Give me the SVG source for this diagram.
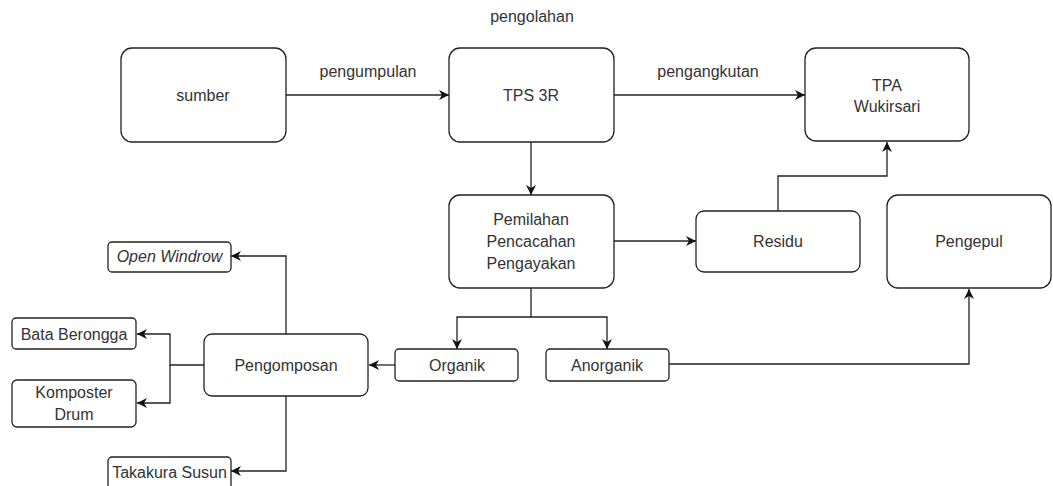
<svg xmlns="http://www.w3.org/2000/svg" width="1053" height="486" viewBox="0 0 1053 486">
<defs>
<marker id="arr" viewBox="0 0 10 10" refX="10" refY="5" markerWidth="10" markerHeight="10" markerUnits="userSpaceOnUse" orient="auto">
<path d="M0,0 L10,5 L0,10 L3,5 Z" fill="#111"/>
</marker>
<style>
rect{fill:#fff;stroke:#222;stroke-width:1.3}
text{font-family:"Liberation Sans",Arial,sans-serif;font-size:16px;fill:#333;text-anchor:middle}
.c path{fill:none;stroke:#222;stroke-width:1.3}
.lbl{fill:#333}
</style>
</defs>
<rect x="0" y="0" width="1053" height="486" style="fill:#fff;stroke:none"/>
<g class="c" id="connectors">
<path d="M286,95 H449" marker-end="url(#arr)"/>
<path d="M614,95 H805" marker-end="url(#arr)"/>
<path d="M531,142 V195" marker-end="url(#arr)"/>
<path d="M614,241 H696" marker-end="url(#arr)"/>
<path d="M778,211 V176 H887 V142" marker-end="url(#arr)"/>
<path d="M531,288 V317 H457 V349" marker-end="url(#arr)"/>
<path d="M531,317 H607 V349" marker-end="url(#arr)"/>
<path d="M669,364 H969 V289" marker-end="url(#arr)"/>
<path d="M395,365 H369" marker-end="url(#arr)"/>
<path d="M286,334 V256 H231" marker-end="url(#arr)"/>
<path d="M286,396 V471 H231" marker-end="url(#arr)"/>
<path d="M204,365 H170 V334 H137" marker-end="url(#arr)"/>
<path d="M170,365 V403 H137" marker-end="url(#arr)"/>
</g>
<g id="labels">
<text x="532" y="22">pengolahan</text>
<text x="368" y="77">pengumpulan</text>
<text x="708" y="77">pengangkutan</text>
</g>
<g id="sumber"><rect x="121" y="48" width="165" height="94" rx="11"/><text x="203" y="101">sumber</text></g>
<g id="tps3r"><rect x="449" y="48" width="165" height="94" rx="11"/><text x="531" y="101">TPS 3R</text></g>
<g id="tpa"><rect x="805" y="48" width="164" height="93" rx="11"/><text x="887" y="91">TPA</text><text x="887" y="112">Wukirsari</text></g>
<g id="pemilahan"><rect x="449" y="195" width="165" height="93" rx="11"/><text x="531" y="224.5">Pemilahan</text><text x="531" y="246.5">Pencacahan</text><text x="531" y="268.5">Pengayakan</text></g>
<g id="residu"><rect x="696" y="211" width="164" height="61" rx="8"/><text x="778" y="246.5">Residu</text></g>
<g id="pengepul"><rect x="887" y="195" width="164" height="93" rx="11"/><text x="969" y="246.5">Pengepul</text></g>
<g id="organik"><rect x="395" y="349" width="123" height="32" rx="4"/><text x="457" y="370.5">Organik</text></g>
<g id="anorganik"><rect x="546" y="349" width="123" height="32" rx="4"/><text x="607" y="370.5">Anorganik</text></g>
<g id="pengomposan"><rect x="204" y="334" width="164" height="62" rx="8"/><text x="286" y="370.5">Pengomposan</text></g>
<g id="openwindrow"><rect x="108" y="242" width="123" height="30" rx="4"/><text x="169.5" y="262" font-style="italic">Open Windrow</text></g>
<g id="bataberongga"><rect x="12" y="318" width="124" height="31" rx="4"/><text x="74" y="339.5">Bata Berongga</text></g>
<g id="komposterdrum"><rect x="12" y="380" width="124" height="47" rx="5"/><text x="74" y="398">Komposter</text><text x="74" y="420">Drum</text></g>
<g id="takakura"><rect x="108" y="457" width="123" height="40" rx="4"/><text x="169.5" y="477.5">Takakura Susun</text></g>
</svg>
